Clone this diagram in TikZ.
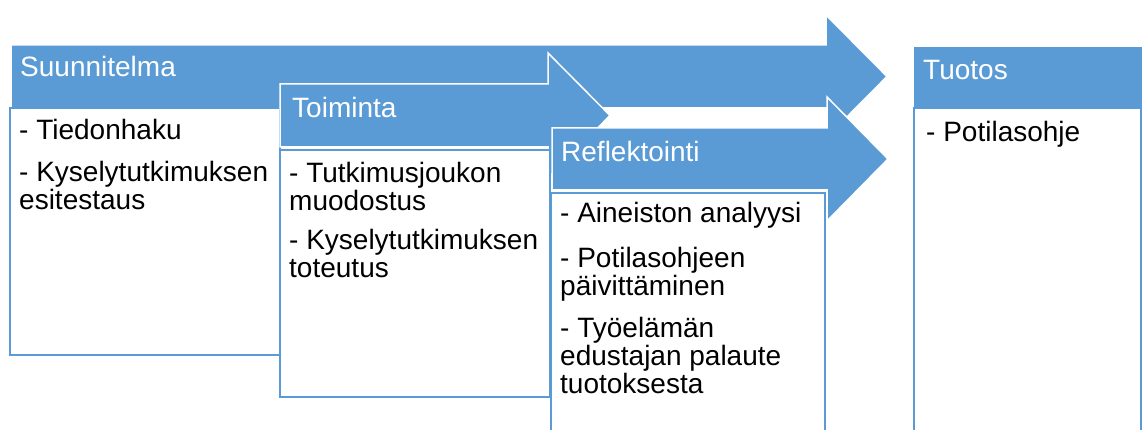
\documentclass[tikz,border=0pt]{standalone}
\usepackage{fontspec}
\setmainfont{Liberation Sans}
\definecolor{accent}{HTML}{5B9BD5}
\begin{document}
\begin{tikzpicture}[x=1pt,y=-1pt,
  phase/.style={fill=accent, draw=white, line width=1.5pt, line join=miter},
  panel/.style={fill=white, draw=accent, line width=2pt},
  headtext/.style={text=white, font=\fontsize{28}{28}\selectfont, inner sep=0pt, anchor=base west},
  itemtext/.style={text=black, font=\fontsize{28}{28}\selectfont, inner sep=0pt, anchor=base west}]
\useasboundingbox (0,0) rectangle (1142,430);
\clip (0,0) rectangle (1142,430);

% Phase 1: plan
\draw[phase] (11,45) -- (826,45) -- (826,15) -- (887,76.5) -- (826,138) -- (826,108) -- (11,108) -- cycle;
\draw[panel] (10,108) rectangle (280,355);
\node[headtext] (suunnitelma) at (20,77) {Suunnitelma};
\node[itemtext] (tiedonhaku) at (19,140) {- Tiedonhaku};
\node[itemtext] (esitestaus) at (19,182) {\vtop{\hbox{- Kyselytutkimuksen}\hbox{esitestaus}}};

% Phase 2: action
\draw[phase] (280,84) -- (548,84) -- (548,53) -- (610,115.5) -- (548,178) -- (548,147) -- (280,147) -- cycle;
\draw[panel] (280,150) rectangle (550,397);
\node[headtext] (toiminta) at (292,118) {Toiminta};
\node[itemtext] (joukko) at (289,183) {\vtop{\hbox{- Tutkimusjoukon}\hbox{muodostus}}};
\node[itemtext] (toteutus) at (289,250) {\vtop{\hbox{- Kyselytutkimuksen}\hbox{toteutus}}};

% Phase 3: reflection
\draw[phase] (552,128) -- (827,128) -- (827,97) -- (888,159) -- (827,221) -- (827,190) -- (552,190) -- cycle;
\draw[panel] (551,193) rectangle (825,445);
\node[headtext] (reflektointi) at (561,162) {Reflektointi};
\node[itemtext] (analyysi) at (560,223) {- Aineiston analyysi};
\node[itemtext] (paivitys) at (560,267) {\vtop{\hbox{- Potilasohjeen}\hbox{päivittäminen}}};
\node[itemtext] (palaute) at (560,337) {\vtop{\hbox{- Työelämän}\hbox{edustajan palaute}\hbox{tuotoksesta}}};

% Outcome
\fill[accent] (914,47) rectangle (1150,108);
\draw[panel] (914,108) rectangle (1141,445);
\node[headtext] (tuotos) at (923,80) {Tuotos};
\node[itemtext] (potilasohje) at (926,142) {- Potilasohje};
\end{tikzpicture}
\end{document}
